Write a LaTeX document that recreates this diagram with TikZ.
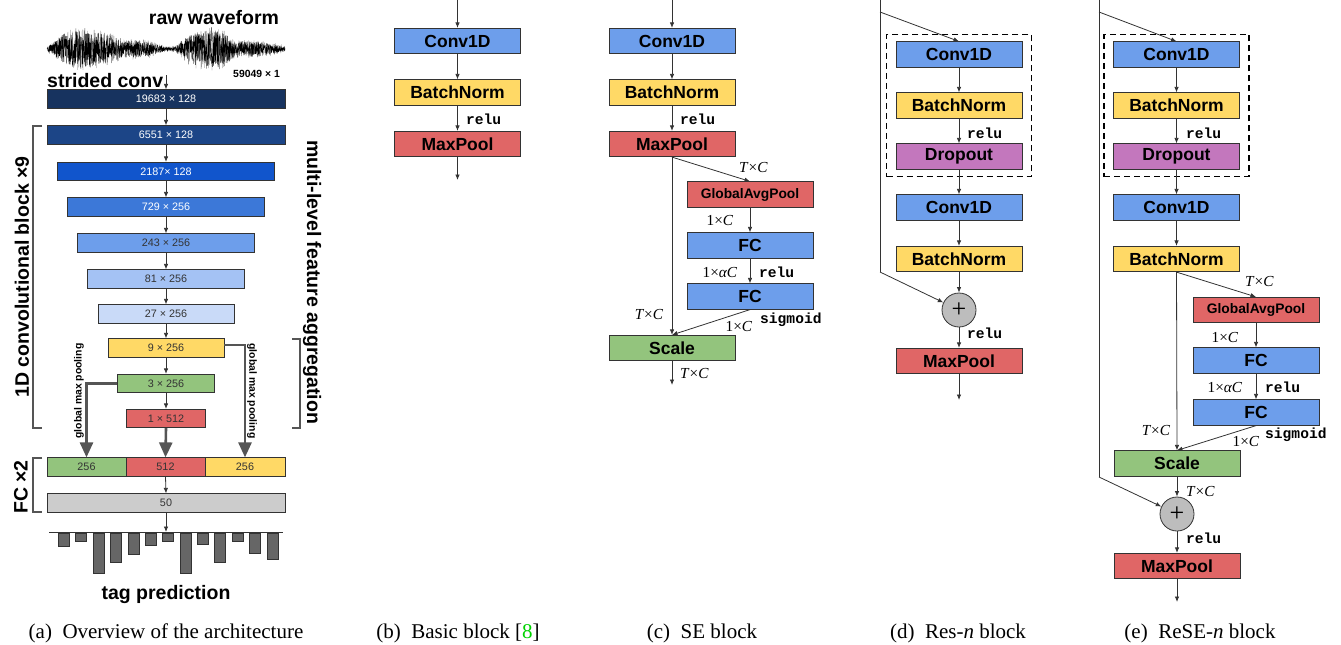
\documentclass[tikz,border=0pt]{standalone}
\usepackage{fontspec}
\setmainfont{Liberation Serif}
\setsansfont{Liberation Sans}
\setmonofont{Liberation Mono}
\usetikzlibrary{arrows.meta,fit}
\definecolor{LayA}{HTML}{17335F}
\definecolor{LayB}{HTML}{1C4587}
\definecolor{LayC}{HTML}{1155CC}
\definecolor{LayD}{HTML}{3C78D8}
\definecolor{LayE}{HTML}{6D9EEB}
\definecolor{LayF}{HTML}{A4C2F4}
\definecolor{LayG}{HTML}{C9DAF8}
\definecolor{ConvC}{HTML}{6D9EEB}
\definecolor{BNC}{HTML}{FFD966}
\definecolor{PoolC}{HTML}{E06666}
\definecolor{DropC}{HTML}{C377BD}
\definecolor{ScaleC}{HTML}{93C47D}
\definecolor{OutC}{HTML}{CCCCCC}
\definecolor{SumC}{HTML}{BDBDBD}
\definecolor{Wire}{HTML}{333333}
\definecolor{Fat}{HTML}{555555}
\definecolor{CiteC}{RGB}{0,210,0}
\newcommand{\hugebold}{\sffamily\bfseries\fontsize{19.5}{22}\selectfont}
\newcommand{\blkfont}{\sffamily\bfseries\fontsize{17.5}{20}\selectfont}
\newcommand{\gapfont}{\sffamily\bfseries\fontsize{13.8}{16}\selectfont}
\newcommand{\numfont}{\sffamily\fontsize{10.8}{12}\selectfont}
\newcommand{\smallbold}{\sffamily\bfseries\fontsize{10.4}{12}\selectfont}
\newcommand{\actfont}{\ttfamily\bfseries\fontsize{14.6}{16}\selectfont}
\newcommand{\dimfont}{\rmfamily\fontsize{15.3}{17}\selectfont}
\newcommand{\capfont}{\rmfamily\fontsize{21}{24}\selectfont}

\begin{document}
\begin{tikzpicture}[x=1pt, y=-1pt,
    declare function={env(\x)=2+20*max(0,1-((\x-85)/38)^2)+8*max(0,1-((\x-135)/30)^2)
                              +19*max(0,1-((\x-205)/30)^2)+7*max(0,1-((\x-245)/40)^2);},
    lay/.style={draw=Wire, line width=0.7pt, minimum height=18.5pt, inner sep=0pt, font=\numfont, text=black!80},
    blk/.style={draw=Wire, line width=0.7pt, minimum width=126pt, minimum height=25.5pt, inner sep=0pt, font=\blkfont},
    arr/.style={Wire, line width=0.8pt, -{Latex[length=5.5pt,width=4.5pt]}},
    fat/.style={Fat, line width=2.6pt, -{Triangle[length=15pt,width=13pt]}},
    brk/.style={Fat, line width=1.2pt},
    act/.style={font=\actfont, anchor=west, inner sep=0pt},
    dim/.style={font=\dimfont, inner sep=0pt},
    sumnode/.style={circle, draw=Wire, line width=0.8pt, fill=SumC, minimum size=34pt, inner sep=0pt, font=\fontsize{26}{26}\selectfont},
    dashbox/.style={draw, line width=1.4pt, dash pattern=on 6pt off 4pt, inner xsep=9pt, inner ysep=7pt},
    captxt/.style={font=\capfont, inner sep=0pt}]
  \useasboundingbox (0,0) rectangle (1341,645);

  % (a) overview
  \node[font=\hugebold, inner sep=0pt] (raw) at (214,18) {raw waveform};
  \pgfmathsetseed{11}
  \draw[black!60, line width=0.3pt] plot[domain=47:285, samples=900] (\x, {49+env(\x)*rand});
  \draw[black, line width=0.35pt] plot[domain=47:285, samples=1100] (\x, {49+0.85*env(\x)*rand});
  \node[font=\smallbold, anchor=east, inner sep=0pt] (len) at (280,74) {59049 × 1};
  \node[font=\hugebold, anchor=west, inner sep=0pt] (strided) at (47,81) {strided conv};
  \coordinate (wv) at (166,75);
  \node[lay, fill=LayA, text=white, minimum width=238pt] (a1) at (166,99) {19683 × 128};
  \node[lay, fill=LayB, text=white, minimum width=238pt] (a2) at (166,135) {6551 × 128};
  \node[lay, fill=LayC, text=white, minimum width=217pt] (a3) at (166,171.5) {2187× 128};
  \node[lay, fill=LayD, text=white, minimum width=197pt] (a4) at (166,207) {729 × 256};
  \node[lay, fill=LayE, minimum width=177pt] (a5) at (166,243) {243 × 256};
  \node[lay, fill=LayF, minimum width=157pt] (a6) at (166,279) {81 × 256};
  \node[lay, fill=LayG, minimum width=136pt] (a7) at (166,314) {27 × 256};
  \node[lay, fill=BNC, minimum width=116pt] (a8) at (166,348) {9 × 256};
  \node[lay, fill=ScaleC, minimum width=97pt] (a9) at (166,383.5) {3 × 256};
  \node[lay, fill=PoolC, minimum width=79pt] (a10) at (166,418.5) {1 × 512};
  \node[lay, fill=ScaleC, minimum width=79pt] (f1) at (86.5,467) {256};
  \node[lay, fill=PoolC, minimum width=79pt] (f2) at (165.5,467) {512};
  \node[lay, fill=BNC, minimum width=80pt] (f3) at (245,467) {256};
  \node[lay, fill=OutC, minimum width=238pt] (a50) at (166,503) {50};
  \coordinate (base) at (166,532);
  \draw[arr] (wv) -- (a1.north);
  \foreach \u/\v in {a1/a2,a2/a3,a3/a4,a4/a5,a5/a6,a6/a7,a7/a8,a8/a9,a9/a10}
    \draw[arr] (\u.south) -- (\v.north);
  \draw[fat] (a9.west) -| (f1.north);
  \draw[fat] ([yshift=3pt]a8.east) -| (f3.north);
  \draw[fat] (a10.south) -- (f2.north);
  \draw[arr] (f2.south) -- (a50.north);
  \draw[arr] (a50.south) -- (base);
  \node[font=\smallbold, rotate=90, inner sep=0pt] (gmpl) at (79,391) {global max pooling};
  \node[font=\smallbold, rotate=-90, inner sep=0pt] (gmpr) at (252,391) {global max pooling};
  \draw[Wire, line width=0.8pt] (49,532) -- (283,532);
  \foreach \bx/\by in {58/546,75/541,93/573,110/562,128/554,145/545,162/541,180/573,197/544,214/562,232/541,249/553,267/559}
    \draw[draw=Wire, fill=black!60, line width=0.6pt] (\bx,533) rectangle (\bx+11,\by);
  \node[font=\hugebold, inner sep=0pt] (tag) at (166,594) {tag prediction};
  \node[font=\hugebold, rotate=90, inner sep=0pt] (lconv) at (22,277) {1D convolutional block ×9};
  \node[font=\hugebold, rotate=-90, inner sep=0pt] (lagg) at (312,282) {multi-level feature aggregation};
  \node[font=\hugebold, rotate=90, inner sep=0pt] (lfc) at (21,487) {FC ×2};
  \draw[brk] (42,126) -- (33,126) -- (33,428) -- (42,428);
  \draw[brk] (292,339) -- (300,339) -- (300,428) -- (292,428);
  \draw[brk] (42,458) -- (33,458) -- (33,512) -- (42,512);

  % (b) basic block
  \coordinate (bin) at (457.5,0);
  \node[blk, fill=ConvC] (b1) at (457.5,41) {Conv1D};
  \node[blk, fill=BNC] (b2) at (457.5,92.5) {BatchNorm};
  \node[blk, fill=PoolC] (b3) at (457.5,144) {MaxPool};
  \coordinate (bout) at (457.5,180);
  \draw[arr] (bin) -- (b1); \draw[arr] (b1) -- (b2);
  \draw[arr] (b2) -- (b3); \draw[arr] (b3) -- (bout);
  \node[act] (brelu) at (466,119) {relu};

  % (c) SE block
  \coordinate (cin) at (672,0);
  \node[blk, fill=ConvC] (c1) at (672,41) {Conv1D};
  \node[blk, fill=BNC] (c2) at (672,92.5) {BatchNorm};
  \node[blk, fill=PoolC] (c3) at (672,144) {MaxPool};
  \node[blk, fill=PoolC, font=\gapfont] (cg) at (750,194.5) {GlobalAvgPool};
  \node[blk, fill=ConvC] (cf1) at (750,245.5) {FC};
  \node[blk, fill=ConvC] (cf2) at (750,296.5) {FC};
  \node[blk, fill=ScaleC] (cs) at (672,348) {Scale};
  \coordinate (cout) at (672,385);
  \draw[arr] (cin) -- (c1); \draw[arr] (c1) -- (c2); \draw[arr] (c2) -- (c3);
  \draw[arr] (c3.south) -- (cs.north);
  \draw[arr] (c3.south) -- (cg.north);
  \draw[arr] (cg) -- (cf1); \draw[arr] (cf1) -- (cf2);
  \draw[arr] (cf2.south) -- (cs.north);
  \draw[arr] (cs) -- (cout);
  \node[act] (crelu) at (680,119) {relu};
  \node[dim, anchor=west] (ctc1) at (739,168) {\textit{T}×\textit{C}};
  \node[dim] (c1c1) at (720,221) {1×\textit{C}};
  \node[dim] (c1a) at (720,273) {1×\textit{αC}};
  \node[act] (crelu2) at (759,272) {relu};
  \node[dim] (ctc2) at (649,315) {\textit{T}×\textit{C}};
  \node[dim] (c1c2) at (739,327) {1×\textit{C}};
  \node[act] (csig) at (760,320) {sigmoid};
  \node[dim, anchor=west] (ctc3) at (680,374) {\textit{T}×\textit{C}};

  % (d) Res-n block
  \coordinate (dtop) at (880,0);
  \coordinate (dsplit) at (880,12);
  \coordinate (dturn) at (880,272);
  \node[blk, fill=ConvC] (d1) at (959,54.5) {Conv1D};
  \node[blk, fill=BNC] (d2) at (959,105.5) {BatchNorm};
  \node[blk, fill=DropC] (d3) at (959,156.5) {Dropout};
  \node[blk, fill=ConvC] (d4) at (959,207.5) {Conv1D};
  \node[blk, fill=BNC] (d5) at (959,259) {BatchNorm};
  \node[sumnode] (dsum) at (959,310) {+};
  \node[blk, fill=PoolC] (dmax) at (959,361) {MaxPool};
  \coordinate (dout) at (959,400);
  \node[dashbox, fit=(d1)(d3)] (ddash) {};
  \draw[Wire, line width=0.8pt] (dtop) -- (dturn);
  \draw[arr] (dsplit) -- (d1.north);
  \draw[arr] (d1) -- (d2); \draw[arr] (d2) -- (d3); \draw[arr] (d3) -- (d4);
  \draw[arr] (d4) -- (d5); \draw[arr] (d5) -- (dsum);
  \draw[arr] (dturn) -- (dsum);
  \draw[arr] (dsum) -- (dmax); \draw[arr] (dmax) -- (dout);
  \node[act] (drelu1) at (967,133) {relu};
  \node[act] (drelu2) at (967,333) {relu};

  % (e) ReSE-n block
  \coordinate (etop) at (1099,0);
  \coordinate (esplit) at (1099,12);
  \coordinate (eturn) at (1099,477);
  \node[blk, fill=ConvC] (e1) at (1176.5,54.5) {Conv1D};
  \node[blk, fill=BNC] (e2) at (1176.5,105.5) {BatchNorm};
  \node[blk, fill=DropC] (e3) at (1176.5,156.5) {Dropout};
  \node[blk, fill=ConvC] (e4) at (1176.5,207.5) {Conv1D};
  \node[blk, fill=BNC] (e5) at (1176.5,259) {BatchNorm};
  \node[blk, fill=PoolC, font=\gapfont] (eg) at (1256,310) {GlobalAvgPool};
  \node[blk, fill=ConvC] (ef1) at (1256,360.5) {FC};
  \node[blk, fill=ConvC] (ef2) at (1256,412.5) {FC};
  \node[blk, fill=ScaleC] (es) at (1177,463.5) {Scale};
  \node[sumnode] (esum) at (1177,514) {+};
  \node[blk, fill=PoolC] (emax) at (1177,566) {MaxPool};
  \coordinate (eout) at (1177,602);
  \node[dashbox, fit=(e1)(e3)] (edash) {};
  \draw[Wire, line width=0.8pt] (etop) -- (eturn);
  \draw[arr] (esplit) -- (e1.north);
  \draw[arr] (e1) -- (e2); \draw[arr] (e2) -- (e3); \draw[arr] (e3) -- (e4);
  \draw[arr] (e4) -- (e5);
  \draw[arr] (e5.south) -- (es.north);
  \draw[arr] (e5.south) -- (eg.north);
  \draw[arr] (eg) -- (ef1); \draw[arr] (ef1) -- (ef2);
  \draw[arr] (ef2.south) -- (es.north);
  \draw[arr] (es) -- (esum);
  \draw[arr] (eturn) -- (esum);
  \draw[arr] (esum) -- (emax); \draw[arr] (emax) -- (eout);
  \node[act] (erelu1) at (1186,133) {relu};
  \node[dim, anchor=west] (etc1) at (1245,282) {\textit{T}×\textit{C}};
  \node[dim] (e1c1) at (1225,338) {1×\textit{C}};
  \node[dim] (e1a) at (1225,388) {1×\textit{αC}};
  \node[act] (erelu2) at (1265,387) {relu};
  \node[dim] (etc2) at (1156,431) {\textit{T}×\textit{C}};
  \node[dim] (e1c2) at (1246,442) {1×\textit{C}};
  \node[act] (esig) at (1265,435) {sigmoid};
  \node[dim, anchor=west] (etc3) at (1186,491) {\textit{T}×\textit{C}};
  \node[act] (erelu3) at (1186,538) {relu};

  % captions
  \node[captxt] (capa) at (166,633) {(a)\hspace{.5em}Overview of the architecture};
  \node[captxt] (capb) at (458,633) {(b)\hspace{.5em}Basic block [\textcolor{CiteC}{8}]};
  \node[captxt] (capc) at (702,633) {(c)\hspace{.5em}SE block};
  \node[captxt] (capd) at (958,633) {(d)\hspace{.5em}Res-\textit{n} block};
  \node[captxt] (cape) at (1200,633) {(e)\hspace{.5em}ReSE-\textit{n} block};
\end{tikzpicture}
\end{document}
